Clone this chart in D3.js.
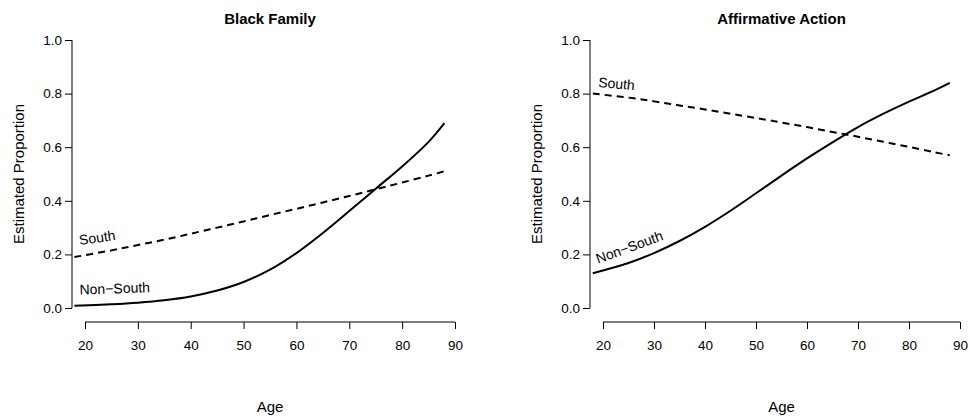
<!DOCTYPE html>
<html><head><meta charset="utf-8">
<script src="https://cdn.jsdelivr.net/npm/d3@7"></script>
<style>body{margin:0;background:#fff}text{font-family:"Liberation Sans",Arial,sans-serif;fill:#000}</style>
</head><body><svg id="c" width="969" height="419"></svg>
<script>
const ages = [18,25,30,35,40,45,50,55,60,65,70,75,80,85,88];
const familyNonSouth = [.008,.014,.02,.029,.043,.065,.097,.143,.205,.28,.362,.445,.528,.62,.69];
const familySouth = [.19,.215,.235,.255,.277,.30,.323,.347,.37,.394,.418,.443,.468,.494,.51];
const aaNonSouth = [.13,.168,.205,.25,.303,.363,.428,.494,.558,.618,.675,.725,.77,.812,.84];
const aaSouth = [.80,.785,.771,.756,.741,.725,.709,.692,.675,.657,.639,.62,.601,.581,.57];
const xTicks = [20,30,40,50,60,70,80,90];
const yTicks = [0,0.2,0.4,0.6,0.8,1.0];
const panels = [
 {title:"Black Family", x0:85, x1:455, ns:familyNonSouth, s:familySouth,
  labS:{age:19,v:0.235,rot:-8,t:"South"}, labN:{age:19,v:0.05,rot:-2,t:"Non\u2212South"}},
 {title:"Affirmative Action", x0:603, x1:960, ns:aaNonSouth, s:aaSouth,
  labS:{age:19,v:0.825,rot:5,t:"South"}, labN:{age:19,v:0.165,rot:-20,t:"Non\u2212South"}}
];
const svg = d3.select("#c");
const y = d3.scaleLinear().domain([0,1]).range([308,40]);
panels.forEach(p=>{
  const x = d3.scaleLinear().domain([20,90]).range([p.x0,p.x1]);
  const g = svg.append("g");
  g.append("g").attr("transform","translate(0,322)")
    .call(d3.axisBottom(x).tickValues(xTicks).tickSize(7).tickFormat(d3.format("d")))
    .call(a=>{a.select(".domain").attr("d",`M${x(20)},0H${x(90)}`);a.selectAll("text").attr("font-size",13.5).attr("dy","1.3em")});
  const yx = p.x0-13;
  g.append("g").attr("transform",`translate(${yx},0)`)
    .call(d3.axisLeft(y).tickValues(yTicks).tickSize(7).tickFormat(d3.format(".1f")))
    .call(a=>{a.select(".domain").attr("d",`M0,${y(0)}V${y(1)}`);a.selectAll("text").attr("font-size",13.5)});
  g.selectAll(".domain,.tick line").attr("stroke","#000");
  g.append("text").attr("x",(p.x0+p.x1)/2).attr("y",24).attr("text-anchor","middle").attr("font-size",15).attr("font-weight","bold").text(p.title);
  g.append("text").attr("x",(p.x0+p.x1)/2).attr("y",412).attr("text-anchor","middle").attr("font-size",15).text("Age");
  g.append("text").attr("transform",`translate(${yx-48},${(y(0)+y(1))/2}) rotate(-90)`).attr("text-anchor","middle").attr("font-size",15).text("Estimated Proportion");
  const line = d3.line().x((d,i)=>x(ages[i])).y(d=>y(d)).curve(d3.curveCatmullRom);
  g.append("path").attr("d",line(p.ns)).attr("fill","none").attr("stroke","#000").attr("stroke-width",2);
  g.append("path").attr("d",line(p.s)).attr("fill","none").attr("stroke","#000").attr("stroke-width",2).attr("stroke-dasharray","7,5");
  [p.labS,p.labN].forEach(l=>{
    g.append("text").attr("transform",`translate(${x(l.age)},${y(l.v)}) rotate(${l.rot})`).attr("font-size",14).text(l.t);
  });
});
</script></body></html>
